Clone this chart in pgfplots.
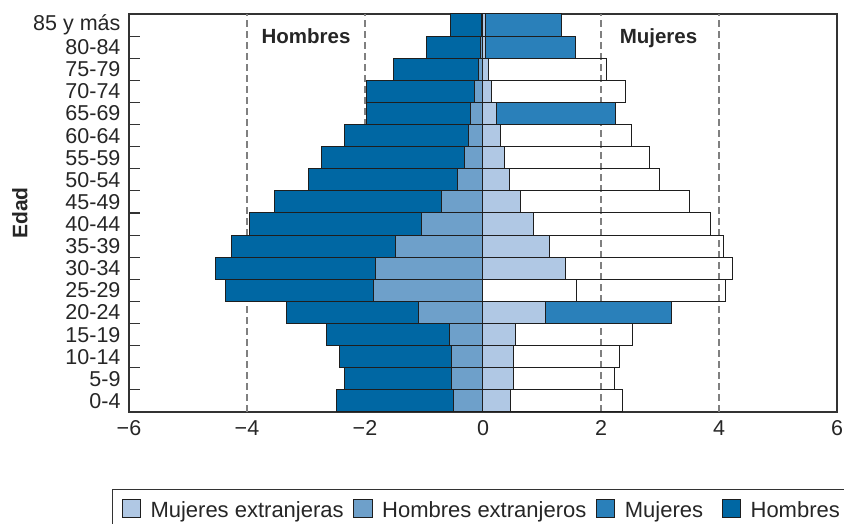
\documentclass[border=0pt]{standalone}
\usepackage{fontspec}
\setmainfont{Liberation Sans}
\usepackage{pgfplots}
\pgfplotsset{compat=1.18}

\definecolor{hom}{HTML}{0067A3}
\definecolor{muj}{HTML}{2A80BA}
\definecolor{homext}{HTML}{6EA0CA}
\definecolor{mujext}{HTML}{B0C8E4}
\definecolor{edge}{HTML}{1E1E1E}
\definecolor{axcol}{HTML}{333333}

\begin{document}
\begin{tikzpicture}
\begin{axis}[
  scale only axis, width=708pt, height=398pt,
  xmin=-6, xmax=6, ymin=-0.5, ymax=17.5,
  axis line style={axcol, line width=1.1pt},
  xtick={-6,-4,-2,0,2,4,6},
  xticklabels={−6,−4,−2,0,2,4,6},
  extra x ticks={-4,-2,2,4},
  extra x tick labels={},
  extra x tick style={grid=major, major grid style={gray, dash pattern=on 7pt off 4pt, line width=1.1pt}},
  ytick={0,...,17},
  yticklabels={0-4,5-9,10-14,15-19,20-24,25-29,30-34,35-39,40-44,45-49,50-54,55-59,60-64,65-69,70-74,75-79,80-84,85 y más},
  minor ytick={0.5,1.5,...,16.5},
  major tick length=0pt,
  minor tick length=11pt,
  tick align=inside,
  ytick pos=left,
  minor tick style={axcol, line width=1.1pt},
  tick label style={font=\fontsize{21.5}{24}\selectfont, text=black!85},
  yticklabel style={xshift=-5pt},
  xticklabel style={yshift=-5pt},
  ylabel={Edad},
  ylabel style={font=\fontsize{21}{24}\selectfont\bfseries, text=black!85, at={(axis description cs:-0.154,0.5)}, anchor=center},
  every axis plot/.append style={xbar, bar width=1, bar shift=0pt, draw=edge, line width=1pt},
  legend columns=4,
  legend style={at={(axis description cs:-0.024,-0.1935)}, anchor=north west,
    draw=axcol, line width=1pt, inner sep=9pt,
    font=\fontsize{22}{24}\selectfont,
    nodes={inner ysep=0pt, inner xsep=5pt, text=black!85},
    column sep=0pt,
    /tikz/every odd column/.append style={column sep=4.5pt},
    /tikz/every even column/.append style={column sep=4.5pt}},
  legend cell align=left,
]
\addlegendimage{legend image code/.code={\draw[fill=mujext, draw=edge, line width=1pt] (0pt,-7pt) rectangle (18.5pt,11pt);}}
\addlegendimage{legend image code/.code={\draw[fill=homext, draw=edge, line width=1pt] (0pt,-7pt) rectangle (18.5pt,11pt);}}
\addlegendimage{legend image code/.code={\draw[fill=muj, draw=edge, line width=1pt] (0pt,-7pt) rectangle (18.5pt,11pt);}}
\addlegendimage{legend image code/.code={\draw[fill=hom, draw=edge, line width=1pt] (0pt,-7pt) rectangle (18.5pt,11pt);}}
\legend{Mujeres extranjeras, Hombres extranjeros, Mujeres\kern9pt\mbox{}, Hombres}

% Hombres (total)
\addplot[fill=hom, forget plot] coordinates {
(-2.48,0) (-2.34,1) (-2.44,2) (-2.66,3) (-3.33,4) (-4.37,5) (-4.54,6) (-4.27,7) (-3.95,8)
(-3.53,9) (-2.95,10) (-2.73,11) (-2.34,12) (-1.98,13) (-1.98,14) (-1.51,15) (-0.95,16) (-0.55,17)};
% Hombres extranjeros
\addplot[fill=homext, forget plot] coordinates {
(-0.50,0) (-0.53,1) (-0.53,2) (-0.57,3) (-1.09,4) (-1.85,5) (-1.83,6) (-1.49,7) (-1.04,8)
(-0.70,9) (-0.44,10) (-0.32,11) (-0.25,12) (-0.21,13) (-0.15,14) (-0.08,15) (-0.05,16) (-0.03,17)};
% Mujeres (total, unfilled rows)
\addplot[fill=none, forget plot] coordinates {
(2.36,0) (2.23,1) (2.32,2) (2.54,3) (4.11,5) (4.23,6) (4.07,7) (3.86,8)
(3.50,9) (2.99,10) (2.83,11) (2.51,12) (2.41,14) (2.09,15)};
% Mujeres (total, filled rows)
\addplot[fill=muj, forget plot] coordinates {
(3.19,4) (2.25,13) (1.56,16) (1.33,17)};
% Mujeres extranjeras
\addplot[fill=mujext, forget plot] coordinates {
(0.47,0) (0.52,1) (0.52,2) (0.55,3) (1.06,4) (1.40,6) (1.13,7) (0.86,8)
(0.64,9) (0.45,10) (0.37,11) (0.30,12) (0.23,13) (0.14,14) (0.09,15) (0.05,16) (0.04,17)};
\addplot[fill=none, forget plot] coordinates {(1.58,5)};

\node[font=\fontsize{20.5}{24}\selectfont\bfseries, text=black!85, anchor=base] at (axis cs:-3.0,16.17) {Hombres};
\node[font=\fontsize{20.5}{24}\selectfont\bfseries, text=black!85, anchor=base] at (axis cs:2.975,16.17) {Mujeres};
\coordinate (bl) at (rel axis cs:0,0);
\end{axis}
\pgfresetboundingbox
\path (bl) ++(-129pt,-112pt) rectangle ++(844pt,524pt);
\end{tikzpicture}
\end{document}
